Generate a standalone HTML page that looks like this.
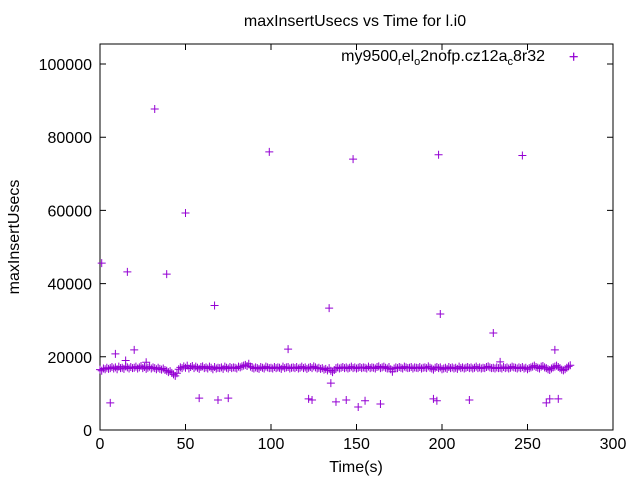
<!DOCTYPE html>
<html><head><meta charset="utf-8"><style>
body{margin:0;background:#fff;}
svg text{font-family:"Liberation Sans",sans-serif;fill:#000;}
</style></head><body>
<svg id="chart" width="640" height="480">
<text x="355" y="26" font-size="16" text-anchor="middle">maxInsertUsecs vs Time for l.i0</text>
<rect x="100" y="44" width="513" height="386" fill="none" stroke="#000"/>
<g id="axes"></g>
<g id="marks"></g>
<text x="356" y="472" font-size="16" text-anchor="middle">Time(s)</text>
<text transform="translate(19,237) rotate(-90)" font-size="16" text-anchor="middle">maxInsertUsecs</text>
<g>
<text x="545" y="61" font-size="16" text-anchor="end">my9500<tspan font-size="11" dy="4">r</tspan><tspan dy="-4">el</tspan><tspan font-size="11" dy="4">o</tspan><tspan dy="-4">2nofp.cz12a</tspan><tspan font-size="11" dy="4">c</tspan><tspan dy="-4">8r32</tspan></text>
<path d="M569.7 56.7h8M573.7 52.7v8" stroke="#9400d3" stroke-width="1"/>
</g>
</svg>
<script>
const xTicks=[0,50,100,150,200,250,300];
const yTicks=[0,20000,40000,60000,80000,100000];
const baseline=[16500,16200,16800,16600,17000,16700,16900,17200,16800,17100,16600,17300,16900,17000,16700,17400,17100,16800,17200,16900,17000,17300,16800,17100,17500,16900,17200,16700,17000,17300,16800,17100,16900,16600,17000,16700,16500,16800,16400,16200,15800,16100,15600,15200,14800,15500,16600,17100,16900,17400,17000,17600,16800,17200,17500,16900,17300,17000,16700,17200,17400,16900,17100,16800,17300,17000,16600,17200,16800,17000,16900,17100,16700,17300,17000,16800,17200,16900,17100,17000,16800,17300,17100,17400,17600,17800,17500,18100,17300,17000,16800,17100,16900,16700,17200,17000,16800,17300,17100,16900,17000,16800,17200,16900,17100,17000,16700,17300,16900,17100,17200,16800,17000,17100,16900,17200,16800,17000,17300,16900,17100,16700,17000,17200,16900,17400,17100,16800,17000,16700,16900,16500,16700,16300,16900,16200,15800,16400,16900,17100,16800,17000,17200,16900,17100,16800,17000,17300,16900,17100,16800,17000,17200,16900,17100,17000,16800,17300,16900,17100,17000,16800,17200,17400,16900,17100,17300,17000,16800,17200,16600,15900,16800,17100,16900,17200,17000,16800,17300,17100,16900,17000,17200,16800,17100,17000,16900,17200,16800,17000,17100,16900,17400,17000,16800,16500,17000,17200,16900,17100,16600,16800,17000,16700,17200,16900,17100,16800,17000,16700,17300,16900,17100,16800,17000,17200,16900,17100,16800,17000,17300,16900,17100,16800,17000,16900,17200,17400,17100,16900,17000,16800,17100,16900,17000,16800,17200,16900,17100,16800,17000,17300,17100,17000,16800,17100,16900,17200,16800,17000,16600,16900,17100,17300,17600,17200,17000,16800,17300,17500,17100,16900,16600,16400,16800,17100,17300,17600,17200,16900,16500,16300,16600,17000,17400,17700];
const outlierT=[1,6,9,15,16,20,27,32,39,50,58,67,69,75,99,110,122,124,134,135,138,144,148,151,155,164,195,197,198,199,216,230,234,247,261,263,266,268,277];
const outlierV=[45600,7400,20800,19000,43200,21900,18500,87700,42600,59300,8700,34000,8200,8700,76000,22100,8500,8200,33300,12800,7700,8200,74000,6300,8000,7100,8500,8000,75200,31700,8200,26500,18600,75000,7400,8500,21900,8500,102000];
const X=t=>100+t*513/300;
const Y=v=>430-v*366/100000;
const NS='http://www.w3.org/2000/svg';
const ax=document.getElementById('axes'),mk=document.getElementById('marks');
function mkel(tag,attrs,parent){const e=document.createElementNS(NS,tag);for(const k in attrs)e.setAttribute(k,attrs[k]);parent.appendChild(e);return e;}
xTicks.forEach(t=>{
 const x=X(t);
 const l=mkel('path',{d:`M${x} 430v-6M${x} 44v6`,stroke:'#000'},ax);
 
 
 const tx=mkel('text',{x:x,y:449,'font-size':16,'text-anchor':'middle'},ax);tx.textContent=t;
 
 
});
yTicks.forEach(v=>{
 const y=Y(v);
 const l=mkel('path',{d:`M100 ${y}h6M613 ${y}h-6`,stroke:'#000'},ax);
 
 
 const tx=mkel('text',{x:92,y:y+6,'font-size':16,'text-anchor':'end'},ax);tx.textContent=v;
 
 
});
function plus(t,v){
 const x=X(t),y=Y(v);
 const p=mkel('path',{d:`M${x-4} ${y}h8M${x} ${y-4}v8`,stroke:'#9400d3','stroke-width':1},mk);
 
 
}
baseline.forEach((v,i)=>plus(i,v));
outlierT.forEach((t,i)=>plus(t,outlierV[i]));
</script>
</body></html>
